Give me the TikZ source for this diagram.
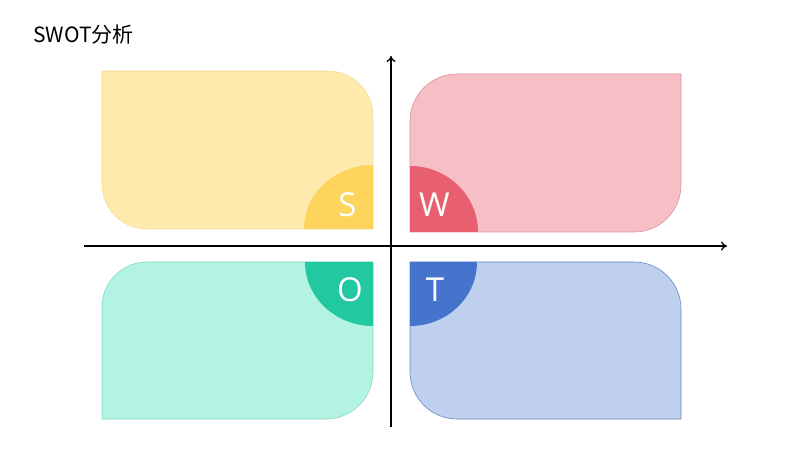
\documentclass[tikz,border=0pt]{standalone}
\usepackage{fontspec}
\setmainfont{Open Sans}
\newfontfamily\cjkfont{Noto Sans CJK SC}
\usetikzlibrary{arrows.meta}
\definecolor{ylight}{HTML}{FFEAAE}
\definecolor{ydark}{HTML}{FDD45C}
\definecolor{yline}{HTML}{F5DC98}
\definecolor{plight}{HTML}{F6BFC6}
\definecolor{pdark}{HTML}{E8606F}
\definecolor{pline}{HTML}{D9939C}
\definecolor{glight}{HTML}{B3F3E3}
\definecolor{gdark}{HTML}{22C9A0}
\definecolor{gline}{HTML}{86D9C2}
\definecolor{blight}{HTML}{BFCFEE}
\definecolor{bdark}{HTML}{4673CB}
\definecolor{bline}{HTML}{6B86BD}
\tikzset{
  box/.style={line width=0.6pt},
  letter/.style={text=white, font=\fontsize{33}{33}\selectfont, inner sep=0pt},
  axis/.style={line width=1.3pt, black, -{To[length=6pt,width=9pt]}},
}
\begin{document}
\begin{tikzpicture}[x=1pt,y=1pt]
\useasboundingbox (0,0) rectangle (800,450);
\fill[white] (0,0) rectangle (800,450);
% S box (yellow)
\filldraw[box, fill=ylight, draw=yline] (102,379) -- (328,379) arc[start angle=90,end angle=0,radius=45] -- (373,221) -- (147,221) arc[start angle=270,end angle=180,radius=45] -- cycle;
\fill[ydark] (373,221) -- (304,221) arc[start angle=180,end angle=90,x radius=69,y radius=64] -- cycle;
% W box (pink)
\filldraw[box, fill=plight, draw=pline] (681,376) -- (457,376) arc[start angle=90,end angle=180,radius=47] -- (410,218) -- (634,218) arc[start angle=270,end angle=360,radius=47] -- cycle;
\fill[pdark] (410,218) -- (478,218) arc[start angle=0,end angle=90,x radius=68,y radius=66] -- cycle;
% O box (green)
\filldraw[box, fill=glight, draw=gline] (373,188) -- (147,188) arc[start angle=90,end angle=180,radius=45] -- (102,31) -- (326,31) arc[start angle=270,end angle=360,radius=47] -- cycle;
\fill[gdark] (373,188) -- (305,188) arc[start angle=180,end angle=270,x radius=68,y radius=64] -- cycle;
% T box (blue)
\filldraw[box, fill=blight, draw=bline] (410,188) -- (634,188) arc[start angle=90,end angle=0,radius=47] -- (681,31) -- (457,31) arc[start angle=270,end angle=180,radius=47] -- cycle;
\fill[bdark] (410,188) -- (477,188) arc[start angle=0,end angle=-90,x radius=67,y radius=64] -- cycle;
% axes
\coordinate (xl) at (84,204);
\coordinate (xr) at (727,204);
\coordinate (yb) at (391,23);
\coordinate (yt) at (391,394);
\draw[axis] (xl) -- (xr);
\draw[axis] (yb) -- (yt);
% letters
\node[letter] (s) at (347.5,245) {S};
\node[letter] (w) at (434.5,245) {W};
\node[letter] (o) at (350,160) {O};
\node[letter] (t) at (435,160) {T};
% title
\node[anchor=base west, inner sep=0pt, font=\cjkfont\fontsize{21}{21}\selectfont] (title) at (33,407) {SWOT分析};
\end{tikzpicture}
\end{document}
